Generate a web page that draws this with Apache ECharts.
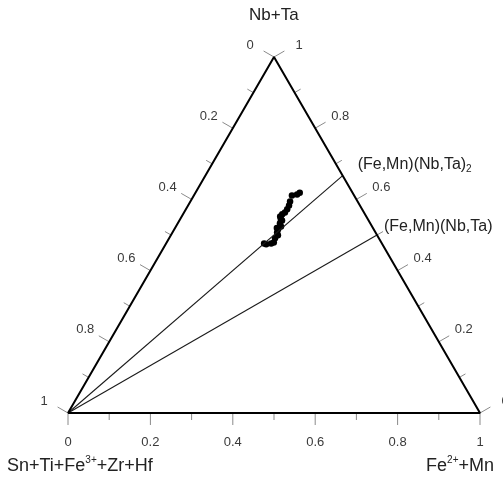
<!DOCTYPE html>
<html>
<head>
<meta charset="utf-8">
<script src="https://cdn.jsdelivr.net/npm/echarts@6/dist/echarts.min.js"></script>
<style>
  html, body { margin: 0; padding: 0; background: #fff; }
  #chart { width: 503px; height: 479px; }
</style>
</head>
<body>
<div id="chart"></div>
<script>
// Ternary diagram: Nb+Ta (top), Sn+Ti+Fe3++Zr+Hf (left), Fe2++Mn (right)

// Sample compositions: [Nb+Ta, Fe2++Mn] (the left component is the remainder)
const sampleNbTa = [0.619, 0.614, 0.611, 0.594, 0.583, 0.572, 0.563, 0.558, 0.552, 0.541,
                    0.533, 0.524, 0.516, 0.507, 0.499, 0.491, 0.479, 0.476, 0.474, 0.476, 0.545, 0.520];
const sampleFeMn = [0.253, 0.249, 0.238, 0.242, 0.245, 0.246, 0.245, 0.241, 0.239, 0.249,
                    0.248, 0.255, 0.252, 0.254, 0.260, 0.257, 0.260, 0.255, 0.244, 0.238, 0.244, 0.247];

// Ideal end-member joins drawn from the Sn+Ti... corner: [Nb+Ta, Fe2++Mn]
const joinNames = ['(Fe,Mn)(Nb,Ta)2', '(Fe,Mn)(Nb,Ta)'];
const joinNbTa = [2 / 3, 1 / 2];
const joinFeMn = [1 / 3, 1 / 2];

// Axis ticks
const tickValues = [0, 0.1, 0.2, 0.3, 0.4, 0.5, 0.6, 0.7, 0.8, 0.9, 1];
const labelValues = [0, 0.2, 0.4, 0.6, 0.8, 1];
const labelTexts = ['0', '0.2', '0.4', '0.6', '0.8', '1'];

const SQ = Math.sqrt(3) / 2;
// ternary (a = Nb+Ta, c = Fe2++Mn) -> plane coordinates
function toXY(a, c) { return [c + a / 2, a * SQ]; }

const FONT = '"Liberation Sans", Arial, sans-serif';
const chart = echarts.init(document.getElementById('chart'), null, { renderer: 'canvas' });

// Each edge: how a tick value maps to a ternary point, tick direction, label offset
const edges = {
  bottom: { pt: v => toXY(0, v), dir: [0, 1], lab: [0, 29] },
  left:   { pt: v => toXY(1 - v, 0), dir: [-0.866, -0.5], lab: [-24, -12] },
  right:  { pt: v => toXY(v, 1 - v), dir: [0.866, -0.5], lab: [25, -12] }
};

function labelIndex(v) {
  return labelValues.findIndex(l => Math.abs(l - v) < 1e-9);
}

function tickSeries(edge) {
  return {
    type: 'custom',
    coordinateSystem: 'cartesian2d',
    silent: true,
    clip: false,
    data: tickValues.map(v => [v, 0]),
    encode: { x: 0, y: 1 },
    renderItem: function (params, api) {
      const v = api.value(0);
      const p = api.coord(edge.pt(v));
      const li = labelIndex(v);
      const len = li >= 0 ? 12 : 7;
      const children = [{
        type: 'line',
        shape: { x1: p[0], y1: p[1], x2: p[0] + edge.dir[0] * len, y2: p[1] + edge.dir[1] * len },
        style: { stroke: '#8a8a8a', lineWidth: 1 }
      }];
      if (li >= 0) {
        children.push({
          type: 'text',
          style: {
            text: labelTexts[li],
            x: p[0] + edge.lab[0], y: p[1] + edge.lab[1],
            align: 'center', verticalAlign: 'middle',
            fill: '#3a3a3a', font: '13px ' + FONT
          }
        });
      }
      return { type: 'group', children: children };
    }
  };
}

const outline = [toXY(0, 0), toXY(0, 1), toXY(1, 0), toXY(0, 0)];

const joinSeries = joinNames.map((name, i) => ({
  type: 'line',
  name: name,
  silent: true,
  symbol: 'none',
  lineStyle: { color: '#1a1a1a', width: 1.1 },
  data: [toXY(0, 0), toXY(joinNbTa[i], joinFeMn[i])]
}));

// Names of the joins, written next to their end on the Nb+Ta – Fe2++Mn edge
const joinLabels = {
  type: 'custom',
  coordinateSystem: 'cartesian2d',
  silent: true,
  clip: false,
  data: joinNbTa.map((a, i) => [a, joinFeMn[i], i]),
  encode: { x: 0, y: 1 },
  renderItem: function (params, api) {
    const i = api.value(2);
    const p = api.coord(toXY(api.value(0), api.value(1)));
    const off = i === 0 ? [15, -11] : [7, -8];
    const hasSub = joinNames[i].endsWith('2');
    return {
      type: 'text',
      style: {
        text: hasSub ? '{m|(Fe,Mn)(Nb,Ta)}{s|2}' : '{m|(Fe,Mn)(Nb,Ta)}',
        x: p[0] + off[0], y: p[1] + off[1],
        align: 'left', verticalAlign: 'middle',
        rich: {
          m: { fontSize: 16, fill: '#222', fontFamily: FONT, lineHeight: 20 },
          s: { fontSize: 10, fill: '#222', fontFamily: FONT, lineHeight: 10, padding: [10, 0, 0, 0] }
        }
      }
    };
  }
};

const option = {
  animation: false,
  grid: { left: 68, right: 23, top: 57, bottom: 66 },
  xAxis: { type: 'value', min: 0, max: 1, show: false },
  yAxis: { type: 'value', min: 0, max: SQ, show: false },
  graphic: [
    {
      type: 'text', left: 249, top: 7,
      style: { text: 'Nb+Ta', fill: '#222', font: '17px ' + FONT }
    },
    {
      type: 'text', left: 7, top: 455,
      style: {
        text: '{m|Sn+Ti+Fe}{p|3+}{m|+Zr+Hf}',
        rich: {
          m: { fontSize: 18, fill: '#222', fontFamily: FONT, lineHeight: 22 },
          p: { fontSize: 10, fill: '#222', fontFamily: FONT, lineHeight: 10, padding: [0, 0, 12, 0] }
        }
      }
    },
    {
      type: 'text', right: 9, top: 455,
      style: {
        text: '{m|Fe}{p|2+}{m|+Mn}',
        rich: {
          m: { fontSize: 18, fill: '#222', fontFamily: FONT, lineHeight: 22 },
          p: { fontSize: 10, fill: '#222', fontFamily: FONT, lineHeight: 10, padding: [0, 0, 12, 0] }
        }
      }
    }
  ],
  series: [
    ...joinSeries,
    {
      type: 'line',
      silent: true,
      symbol: 'none',
      lineStyle: { color: '#000', width: 2 },
      data: outline
    },
    tickSeries(edges.bottom),
    tickSeries(edges.left),
    tickSeries(edges.right),
    joinLabels,
    {
      type: 'scatter',
      symbol: 'circle',
      symbolSize: 6.5,
      itemStyle: { color: '#000', opacity: 1 },
      data: sampleNbTa.map((a, i) => toXY(a, sampleFeMn[i]))
    }
  ]
};

chart.setOption(option);
</script>
</body>
</html>
